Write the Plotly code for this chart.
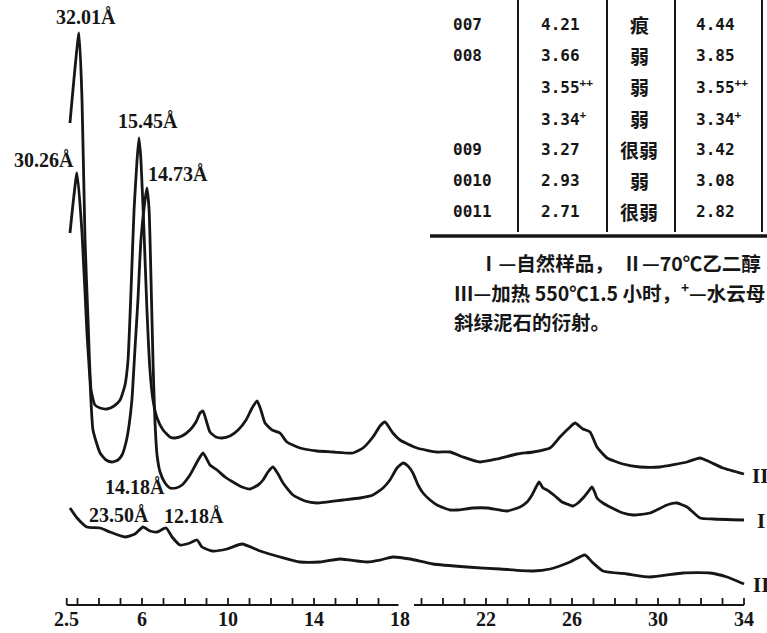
import plotly.graph_objects as go

# ---------------- data (2θ in degrees, relative intensity incl. vertical offset) -------------
II_X = [2.65, 3.07, 3.21, 3.35, 3.49, 3.63, 3.81, 4.05, 4.37, 4.70, 4.98, 5.21, 5.35, 5.49, 5.63,
        5.77, 5.86, 5.95, 6.09, 6.23, 6.37, 6.51, 6.70, 6.98, 7.30, 7.53, 7.86, 8.23, 8.51, 8.70,
        8.84, 8.98, 9.16, 9.44, 9.72, 10.09, 10.47, 10.84, 11.12, 11.35, 11.53, 11.72, 12.05, 12.42,
        12.74, 13.35, 14.14, 14.88, 15.81, 16.28, 16.74, 17.07, 17.30, 17.67, 18.0, 18.79, 19.72,
        20.33, 20.93, 21.72, 22.51, 23.44, 24.19, 24.98, 25.44, 25.91, 26.14, 26.51, 26.84, 27.16,
        27.63, 28.37, 29.16, 30.09, 31.35, 31.95, 32.42, 33.02, 34.0]
II_Y = [482, 572, 505, 365, 285, 215, 200, 197, 196, 199, 205, 220, 245, 315, 395,
        445, 467, 445, 375, 295, 235, 205, 187, 175, 168, 167, 169, 175, 183, 192,
        194, 185, 173, 168, 167, 169, 175, 185, 197, 204, 195, 182, 175, 172,
        163, 157, 154, 153, 152, 157, 168, 179, 183, 172, 165, 157, 153,
        153, 148, 143, 146, 151, 153, 157, 168, 178, 182, 176, 173, 158,
        147, 141, 138, 138, 143, 147, 143, 137, 131]

I_X = [2.65, 2.98, 3.21, 3.44, 3.58, 3.72, 4.05, 4.33, 4.60, 4.88, 5.07, 5.26, 5.40, 5.53, 5.67,
       5.81, 5.95, 6.14, 6.23, 6.33, 6.42, 6.51, 6.60, 6.70, 6.84, 7.07, 7.30, 7.58, 7.86, 8.23,
       8.56, 8.84, 9.16, 9.49, 9.86, 10.23, 10.65, 11.02, 11.40, 11.63, 11.86, 12.09, 12.33, 12.56,
       13.02, 13.58, 14.14, 15.35, 16.14, 16.74, 17.21, 17.53, 17.86, 18.14, 18.37, 18.60, 18.84,
       19.07, 19.40, 19.72, 20.33, 20.65, 21.40, 22.05, 22.98, 23.58, 23.91, 24.14, 24.33, 24.47,
       24.65, 24.84, 25.21, 25.53, 25.77, 26.05, 26.28, 26.51, 26.74, 26.93, 27.07, 27.16, 27.44,
       27.77, 28.37, 28.84, 29.63, 30.42, 30.88, 31.35, 31.95, 32.56, 34.0]
I_Y = [372, 432, 372, 272, 225, 175, 152, 145, 143, 145, 150, 163, 180, 205, 255,
       305, 365, 405, 417, 395, 325, 245, 185, 150, 133, 122, 117, 117, 120, 130,
       143, 152, 140, 135, 128, 123, 118, 116, 120, 125, 133, 138, 131, 122,
       110, 104, 102, 105, 107, 110, 117, 125, 137, 142, 139, 132, 120,
       112, 105, 100, 95, 95, 97, 97, 94, 98, 103, 110, 118, 123,
       117, 115, 109, 103, 101, 99, 102, 107, 113, 118, 112, 107, 102,
       98, 92, 90, 92, 100, 102, 98, 87, 86, 85]

III_X = [2.65, 2.98, 3.44, 4.05, 4.51, 5.21, 5.67, 6.05, 6.37, 6.70, 7.12, 7.40, 7.77, 8.23, 8.56,
         8.79, 9.26, 9.95, 10.65, 11.49, 12.42, 13.35, 14.28, 15.21, 16.47, 17.07, 17.67, 18.47,
         19.53, 21.12, 22.65, 24.19, 24.98, 25.91, 26.60, 26.98, 27.44, 28.56, 29.63, 31.16, 32.42,
         33.21, 34.0]
III_Y = [97, 87, 78, 77, 73, 68, 71, 78, 74, 73, 77, 68, 60, 62, 65,
         58, 54, 56, 61, 54, 48, 43, 43, 46, 43, 45, 48, 46,
         41, 38, 36, 34, 36, 43, 50, 42, 34, 31, 28, 32, 32,
         28, 21]

CURVE_NAMES = ["II", "I", "III"]

# axis ticks / labels
TICK_POS = [2.5] + list(range(3, 18)) + list(range(19, 35))
LABEL_VALS = [2.5, 6, 10, 14, 18, 22, 26, 30, 34]
LABEL_TEXT = ["2.5", "6", "10", "14", "18", "22", "26", "30", "34"]
AXIS_SEGMENTS = [(2.5, 17.93), (18.65, 34.0)]

# peak annotations
PEAK_LABELS = ["32.01Å", "30.26Å", "15.45Å", "14.73Å", "14.18Å", "23.50Å", "12.18Å"]

# table
HKL = ["007", "008", "", "", "009", "0010", "0011"]
D_I = ["4.21", "3.66", "3.55<sup>++</sup>", "3.34<sup>+</sup>", "3.27", "2.93", "2.71"]
INTENS = ["痕", "弱", "弱", "弱", "很弱", "弱", "很弱"]
D_II = ["4.44", "3.85", "3.55<sup>++</sup>", "3.34<sup>+</sup>", "3.42", "3.08", "2.82"]

CAPTION = ["Ⅰ—自然样品，  Ⅱ—70℃乙二醇",
           "Ⅲ—加热 550℃1.5 小时，<sup>+</sup>—水云母",
           "斜绿泥石的衍射。"]

# ---------------- layout helpers ----------------
W, H = 767, 633
PLOT_H = 605
X0 = 6 - 142 / 21.5
X1 = 6 + (W - 142) / 21.5


def fx(p):
    return p / W


def fy(p):
    return (PLOT_H - p) / PLOT_H


INK = "#161616"
SERIF = dict(family="Liberation Serif, Times New Roman, serif", size=20, color=INK, weight="bold")
MONO = dict(family="DejaVu Sans Mono, Liberation Mono, monospace", size=16, color=INK, weight="bold")
CJK = dict(family="Noto Sans CJK SC, sans-serif", size=19, color=INK, weight="bold")

fig = go.Figure()

for xs, ys, nm in zip([II_X, I_X, III_X], [II_Y, I_Y, III_Y], CURVE_NAMES):
    fig.add_trace(go.Scatter(x=xs, y=ys, mode="lines", name=nm,
                             line=dict(color=INK, width=2.8, shape="spline", smoothing=0.5),
                             showlegend=False, hoverinfo="skip"))

# tick marks
tx, ty = [], []
for t in TICK_POS:
    tx += [t, t, None]
    ty += [0, 7, None]
fig.add_trace(go.Scatter(x=tx, y=ty, mode="lines", line=dict(color=INK, width=1.8),
                         showlegend=False, hoverinfo="skip"))

shapes = []
for a, b in AXIS_SEGMENTS:
    shapes.append(dict(type="line", xref="x", yref="paper", x0=a, x1=b, y0=0, y1=0,
                       line=dict(color=INK, width=2.2)))

# table lines
for vx in [518, 607, 675, 762]:
    shapes.append(dict(type="line", xref="paper", yref="paper", x0=fx(vx), x1=fx(vx),
                       y0=fy(0), y1=fy(232), line=dict(color=INK, width=2)))
shapes.append(dict(type="line", xref="paper", yref="paper", x0=fx(430), x1=fx(767),
                   y0=fy(236), y1=fy(236), line=dict(color=INK, width=3.5)))

ann = []
# tick labels
for v, t in zip(LABEL_VALS, LABEL_TEXT):
    ann.append(dict(text=t, x=v, y=fy(619), xref="x", yref="paper", showarrow=False,
                    xanchor="center", yanchor="middle", font=SERIF))

peak_pos = [(86, 17), (44, 160), (148, 121), (178, 174), (135, 487), (119, 515), (194, 516)]
for txt, (px_, py_) in zip(PEAK_LABELS, peak_pos):
    ann.append(dict(text=txt, x=fx(px_), y=fy(py_), xref="paper", yref="paper",
                    showarrow=False, xanchor="center", yanchor="middle", font=SERIF))

# curve labels at right edge (cut by the frame as in the scan)
for txt, (px_, py_) in zip(CURVE_NAMES, [(750, 476), (755, 521), (751, 585)]):
    ann.append(dict(text=txt, x=fx(px_), y=fy(py_), xref="paper", yref="paper",
                    showarrow=False, xanchor="left", yanchor="middle",
                    font=dict(SERIF, size=21)))

rows_y = [25, 56, 87, 118, 149, 180, 211]
for i, ry in enumerate(rows_y):
    if HKL[i]:
        ann.append(dict(text=HKL[i], x=fx(451), y=fy(ry), xref="paper", yref="paper",
                        showarrow=False, xanchor="left", yanchor="middle", font=MONO))
    ann.append(dict(text=D_I[i], x=fx(539), y=fy(ry), xref="paper", yref="paper",
                    showarrow=False, xanchor="left", yanchor="middle", font=MONO))
    ann.append(dict(text=INTENS[i], x=fx(639), y=fy(ry), xref="paper", yref="paper",
                    showarrow=False, xanchor="center", yanchor="middle", font=CJK))
    ann.append(dict(text=D_II[i], x=fx(694), y=fy(ry), xref="paper", yref="paper",
                    showarrow=False, xanchor="left", yanchor="middle", font=MONO))

for txt, (px_, py_) in zip(CAPTION, [(477, 262), (452, 292), (452, 321)]):
    ann.append(dict(text=txt, x=fx(px_), y=fy(py_), xref="paper", yref="paper",
                    showarrow=False, xanchor="left", yanchor="middle",
                    font=dict(CJK, size=19.5)))

fig.update_layout(
    width=W, height=H,
    margin=dict(l=0, r=0, t=0, b=H - PLOT_H, pad=0),
    paper_bgcolor="white", plot_bgcolor="white",
    shapes=shapes, annotations=ann,
    xaxis=dict(range=[X0, X1], showgrid=False, zeroline=False, showline=False,
               showticklabels=False, ticks="", fixedrange=True),
    yaxis=dict(range=[0, PLOT_H], visible=False, fixedrange=True),
)

fig.write_html("out.html", config={"displayModeBar": False, "staticPlot": True},
               post_script="document.body.style.margin='0';")
